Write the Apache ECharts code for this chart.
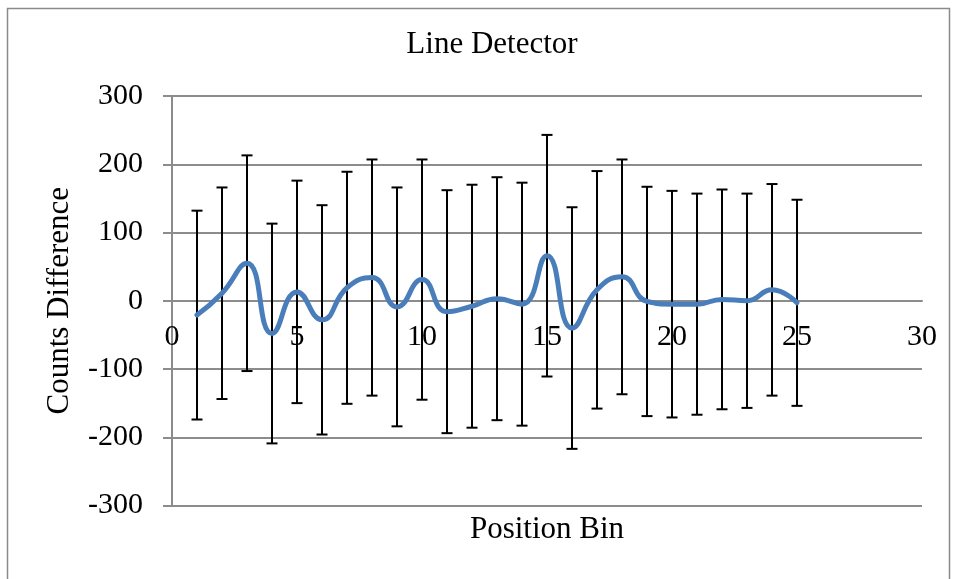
<!DOCTYPE html>
<html>
<head>
<meta charset="utf-8">
<title>Line Detector</title>
<script src="https://cdn.jsdelivr.net/npm/echarts@6/dist/echarts.min.js"></script>
<style>
  html, body { margin: 0; padding: 0; background: #fff; }
  #chart { width: 959px; height: 579px; }
</style>
</head>
<body>
<div id="chart"></div>
<script>
// Position bins and measured count differences with their uncertainties
const bins = [1, 2, 3, 4, 5, 6, 7, 8, 9, 10, 11, 12, 13, 14, 15, 16, 17, 18, 19, 20, 21, 22, 23, 24, 25];
const countsDiff = [-21, 11, 55, -48, 13, -28, 19, 34, -9, 31, -16, -8, 3, -5, 66, -40, 16, 35, -1, -5, -5, 2, 0, 16, -3];
const countsErr = [153, 155, 158, 161, 163, 168, 170, 173, 175, 176, 178, 178, 178, 178, 177, 177, 174, 172, 168, 166, 162, 161, 157, 155, 151];

// Axis ranges and tick steps
const xTicks = { min: 0, max: 30, step: 5 };
const yTicks = { min: -300, max: 300, step: 100 };

const SERIF = "'Liberation Serif', 'Times New Roman', serif";
const GRID_GRAY = '#8c8c8c';

// Plot box; the horizontal axis is lifted from the bottom edge to the y = 0 line
const PLOT = { left: 172, right: 37, top: 96, bottom: 73.5 };
const plotHeight = 579 - PLOT.top - PLOT.bottom;
const zeroLift = -plotHeight * (0 - yTicks.min) / (yTicks.max - yTicks.min);

const lineData = bins.map((b, i) => [b, countsDiff[i]]);
const errData = bins.map((b, i) => [b, countsDiff[i] - countsErr[i], countsDiff[i] + countsErr[i]]);

const chart = echarts.init(document.getElementById('chart'), null, { renderer: 'canvas' });

chart.setOption({
  backgroundColor: '#ffffff',
  animation: false,
  title: {
    text: 'Line Detector',
    left: 487,
    textAlign: 'center',
    top: 24,
    textStyle: { fontFamily: SERIF, fontSize: 31, fontWeight: 'normal', color: '#000' }
  },
  graphic: [{
    type: 'rect',
    shape: { x: 7.5, y: 8.5, width: 942, height: 620 },
    style: { fill: 'none', stroke: '#8a8a8a', lineWidth: 1.5 },
    silent: true,
    z: -10
  }],
  grid: { left: PLOT.left, right: PLOT.right, top: PLOT.top, bottom: PLOT.bottom, containLabel: false, outerBoundsMode: 'none' },
  xAxis: {
    type: 'value',
    position: 'bottom',
    offset: zeroLift,
    min: xTicks.min, max: xTicks.max, interval: xTicks.step,
    name: 'Position Bin',
    nameLocation: 'middle',
    nameGap: 214,
    nameTextStyle: { fontFamily: SERIF, fontSize: 31, color: '#000' },
    axisLine: { show: true, onZero: false, lineStyle: { color: GRID_GRAY, width: 2 } },
    axisTick: { show: false },
    axisLabel: { fontFamily: SERIF, fontSize: 30, color: '#000', margin: 21 },
    splitLine: { show: false }
  },
  yAxis: {
    type: 'value',
    min: yTicks.min, max: yTicks.max, interval: yTicks.step,
    name: 'Counts Difference',
    nameLocation: 'middle',
    nameGap: 97,
    nameTextStyle: { fontFamily: SERIF, fontSize: 31, color: '#000' },
    axisLine: { show: true, onZero: false, lineStyle: { color: GRID_GRAY, width: 2 } },
    axisTick: { show: true, inside: false, length: 9, lineStyle: { color: GRID_GRAY, width: 2 } },
    axisLabel: { fontFamily: SERIF, fontSize: 30, color: '#000', margin: 29 },
    splitLine: { show: true, lineStyle: { color: GRID_GRAY, width: 2 } }
  },
  series: [
    {
      // vertical error bars with end caps
      type: 'custom',
      z: 2,
      data: errData,
      encode: { x: 0, y: [1, 2] },
      renderItem: function (params, api) {
        const x = api.value(0);
        const lo = api.coord([x, api.value(1)]);
        const hi = api.coord([x, api.value(2)]);
        const half = 5.5;
        const style = { stroke: '#000', lineWidth: 2 };
        return {
          type: 'group',
          children: [
            { type: 'line', shape: { x1: lo[0], y1: lo[1], x2: hi[0], y2: hi[1] }, style: style },
            { type: 'line', shape: { x1: hi[0] - half, y1: hi[1], x2: hi[0] + half, y2: hi[1] }, style: style },
            { type: 'line', shape: { x1: lo[0] - half, y1: lo[1], x2: lo[0] + half, y2: lo[1] }, style: style }
          ]
        };
      }
    },
    {
      type: 'line',
      z: 3,
      data: lineData,
      smooth: 0.5,
      showSymbol: false,
      symbol: 'none',
      lineStyle: { color: '#4a7ebb', width: 5, cap: 'round', join: 'round' }
    }
  ]
});
</script>
</body>
</html>
